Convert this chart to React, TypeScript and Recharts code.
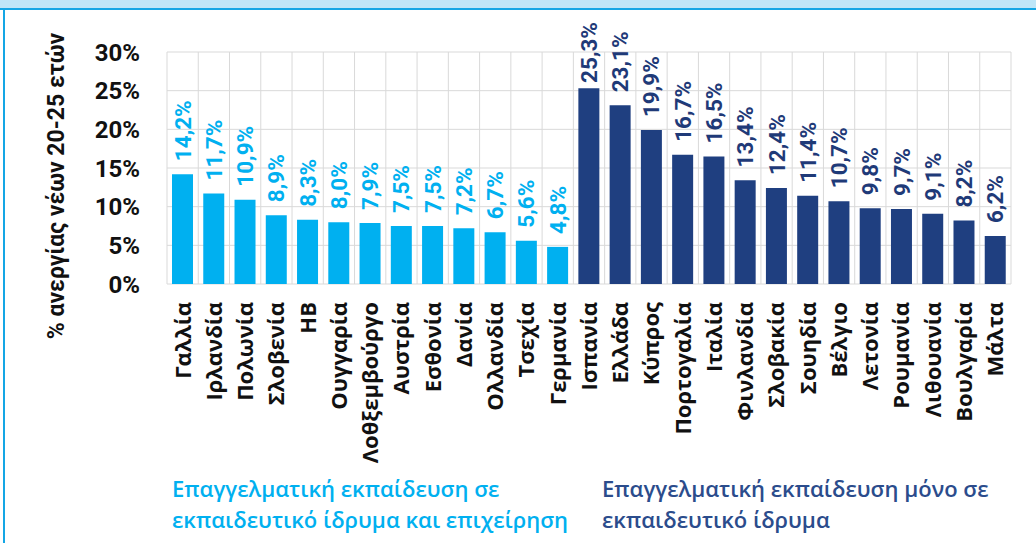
import { BarChart, Bar, XAxis, YAxis, CartesianGrid, Cell, LabelList } from 'recharts';

// VET in school and company (light blue)
const dualCountries = [
  'Γαλλία', 'Ιρλανδία', 'Πολωνία', 'Σλοβενία', 'ΗΒ', 'Ουγγαρία', 'Λοθξεμβούργο',
  'Αυστρία', 'Εσθονία', 'Δανία', 'Ολλανδία', 'Τσεχία', 'Γερμανία'
];
const dualValues = [14.2, 11.7, 10.9, 8.9, 8.3, 8.0, 7.9, 7.5, 7.5, 7.2, 6.7, 5.6, 4.8];

// VET only in school (dark blue)
const schoolCountries = [
  'Ισπανία', 'Ελλάδα', 'Κύπρος', 'Πορτογαλία', 'Ιταλία', 'Φινλανδία', 'Σλοβακία',
  'Σουηδία', 'Βέλγιο', 'Λετονία', 'Ρουμανία', 'Λιθουανία', 'Βουλγαρία', 'Μάλτα'
];
const schoolValues = [25.3, 23.1, 19.9, 16.7, 16.5, 13.4, 12.4, 11.4, 10.7, 9.8, 9.7, 9.1, 8.2, 6.2];

const yTicks = [0, 5, 10, 15, 20, 25, 30];

const LIGHT = '#00B0F0';
const DARK = '#1F3F80';
const DARK_TEXT = '#1F3A78';
const NUM_FONT = 'Roboto, sans-serif';

const data = [
  ...dualCountries.map((country, i) => ({ country, value: dualValues[i], group: 'dual' })),
  ...schoolCountries.map((country, i) => ({ country, value: schoolValues[i], group: 'school' }))
];

const fmt = (v: number) => `${v.toFixed(1).replace('.', ',')}%`;

// rough Roboto bold advance widths, to keep labels inside the chart like Excel does
const textLen = (s: string, size: number) =>
  s.split('').reduce((sum, c) => sum + (c === ',' ? 0.23 : c === '%' ? 0.735 : 0.562), 0) * size;

const LABEL_SIZE = 22.5;
const LABEL_TOP = 22;

const ValueLabel = (props: any) => {
  const { x, y, width, value, index } = props;
  const cx = x + width / 2;
  const text = fmt(value);
  let ty = y - 13;
  let anchor = 'start';
  if (ty - textLen(text, LABEL_SIZE) < LABEL_TOP) {
    ty = LABEL_TOP;
    anchor = 'end';
  }
  const color = data[index].group === 'dual' ? LIGHT : DARK_TEXT;
  return (
    <text
      x={cx}
      y={ty}
      dy="0.36em"
      transform={`rotate(-90, ${cx}, ${ty})`}
      textAnchor={anchor}
      fill={color}
      fontFamily={NUM_FONT}
      fontWeight="bold"
      fontSize={LABEL_SIZE}
    >
      {text}
    </text>
  );
};

const CountryTick = (props: any) => {
  const { x, payload } = props;
  const ty = 302;
  return (
    <text
      x={x}
      y={ty}
      dy="0.36em"
      transform={`rotate(-90, ${x}, ${ty})`}
      textAnchor="end"
      fill="#111"
      fontFamily="'Open Sans', sans-serif"
      fontWeight="bold"
      fontSize={22}
    >
      {payload.value}
    </text>
  );
};

const PercentTick = (props: any) => {
  const { y, payload } = props;
  return (
    <text
      x={140}
      y={y}
      dy="0.36em"
      textAnchor="end"
      fill="#111"
      fontFamily={NUM_FONT}
      fontWeight="bold"
      fontSize={24}
    >
      {payload.value}%
    </text>
  );
};

const legendStyle = {
  position: 'absolute' as const,
  fontFamily: "'Open Sans', sans-serif",
  fontSize: 22,
  fontWeight: 600,
  lineHeight: '31px',
  whiteSpace: 'nowrap' as const
};

export default function App() {
  return (
    <div style={{ position: 'absolute', left: 0, top: 0, width: 1036, height: 543, background: '#fff', overflow: 'hidden' }}>
      <div style={{ position: 'absolute', left: 0, top: 0, width: 1036, height: 8, background: '#BEE6F8' }} />
      <div style={{ position: 'absolute', left: 0, top: 8, width: 1036, height: 2, background: '#14A6E5' }} />
      <div style={{ position: 'absolute', left: 3, top: 8, width: 2, height: 535, background: '#14A6E5' }} />

      <div style={{ position: 'absolute', left: 0, top: 0 }}>
        <BarChart
          width={1036}
          height={543}
          data={data}
          margin={{ top: 52, right: 25, bottom: 0, left: 0 }}
        >
          <CartesianGrid
            stroke="#D9D9D9"
            strokeWidth={1}
            verticalCoordinatesGenerator={({ offset }: any) =>
              Array.from({ length: data.length + 1 }, (_, i) => offset.left + (i * offset.width) / data.length)
            }
          />
          <XAxis
            dataKey="country"
            interval={0}
            height={259}
            axisLine={false}
            tickLine={false}
            tick={<CountryTick />}
          />
          <YAxis
            width={167}
            domain={[0, 30]}
            ticks={yTicks}
            axisLine={false}
            tickLine={false}
            tick={<PercentTick />}
            label={{
              content: () => (
                <text
                  x={56}
                  y={186}
                  dy="0.36em"
                  transform="rotate(-90, 56, 186)"
                  textAnchor="middle"
                  fill="#111"
                  fontFamily={NUM_FONT}
                  fontWeight="bold"
                  fontSize={23}
                >
                  % ανεργίας νέων 20-25 ετών
                </text>
              )
            }}
          />
          <Bar dataKey="value" barSize={21} isAnimationActive={false}>
            {data.map((d, i) => (
              <Cell key={i} fill={d.group === 'dual' ? LIGHT : DARK} />
            ))}
            <LabelList dataKey="value" content={<ValueLabel />} />
          </Bar>
        </BarChart>
      </div>

      <div style={{ ...legendStyle, left: 172, top: 473, color: LIGHT }}>
        Επαγγελματική εκπαίδευση σε
        <br />
        εκπαιδευτικό ίδρυμα και επιχείρηση
      </div>
      <div style={{ ...legendStyle, left: 602, top: 473, color: '#2B4C8C' }}>
        Επαγγελματική εκπαίδευση μόνο σε
        <br />
        εκπαιδευτικό ίδρυμα
      </div>
    </div>
  );
}
